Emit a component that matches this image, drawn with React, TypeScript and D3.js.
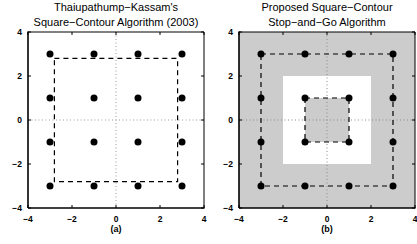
import React from "react";
import * as d3 from "d3";

const tickValues = [-4, -2, 0, 2, 4];
const tickLabels = ["−4", "−2", "0", "2", "4"];
const pointsX = [-3, -1, 1, 3, -3, -1, 1, 3, -3, -1, 1, 3, -3, -1, 1, 3];
const pointsY = [3, 3, 3, 3, 1, 1, 1, 1, -1, -1, -1, -1, -3, -3, -3, -3];
const contourA = [[-2.8, 2.8], [2.8, 2.8], [2.8, -2.8], [-2.8, -2.8]];
const contourBOuter = [[-3, 3], [3, 3], [3, -3], [-3, -3]];
const contourBInner = [[-1, 1], [1, 1], [1, -1], [-1, -1]];
const whiteHalf = 2;
const innerGrayHalf = 1;
const titlesA = ["Thaiupathump−Kassam's", "Square−Contour Algorithm (2003)"];
const titlesB = ["Proposed Square−Contour", "Stop−and−Go Algorithm"];
const captions = ["(a)", "(b)"];

const FONT = "'Liberation Sans', Arial, Helvetica, sans-serif";
const TOP = 32;
const SIZE = 176;
const GRAY = "#cccccc";

function Panel({ x0, titles, caption, variant }: { x0: number; titles: string[]; caption: string; variant: "a" | "b" }) {
  const x = d3.scaleLinear().domain([-4, 4]).range([x0, x0 + SIZE]);
  const y = d3.scaleLinear().domain([-4, 4]).range([TOP + SIZE, TOP]);
  const line = d3
    .line<number[]>()
    .x((d) => x(d[0]))
    .y((d) => y(d[1]))
    .curve(d3.curveLinearClosed);
  const cx = x(0);
  const rect = (h: number, fill: string) => (
    <rect x={x(-h)} y={y(h)} width={x(h) - x(-h)} height={y(-h) - y(h)} fill={fill} />
  );
  const gridColor = variant === "a" ? "#9a9a9a" : "#8a8a8a";
  return (
    <g>
      <text x={cx} y={11} textAnchor="middle" fontSize={11} fontFamily={FONT}>{titles[0]}</text>
      <text x={cx} y={25.5} textAnchor="middle" fontSize={11} fontFamily={FONT}>{titles[1]}</text>
      {variant === "b" && (
        <g>
          {rect(4, GRAY)}
          {rect(whiteHalf, "#ffffff")}
          {rect(innerGrayHalf, GRAY)}
        </g>
      )}
      <line x1={x(0)} x2={x(0)} y1={y(4)} y2={y(-4)} stroke={gridColor} strokeWidth={1} strokeDasharray="1,2.5" />
      <line x1={x(-4)} x2={x(4)} y1={y(0)} y2={y(0)} stroke={gridColor} strokeWidth={1} strokeDasharray="1,2.5" />
      {variant === "a" ? (
        <path d={line(contourA) || ""} fill="none" stroke="#000" strokeWidth={1.2} strokeDasharray="5,4" />
      ) : (
        <g>
          <path d={line(contourBOuter) || ""} fill="none" stroke="#000" strokeWidth={1.2} strokeDasharray="5,4" />
          <path d={line(contourBInner) || ""} fill="none" stroke="#000" strokeWidth={1.2} strokeDasharray="5,4" />
        </g>
      )}
      {pointsX.map((px, i) => (
        <circle key={i} cx={x(px)} cy={y(pointsY[i])} r={3.5} fill="#000" />
      ))}
      {tickValues.map((t) => (
        <g key={"t" + t}>
          <line x1={x(t)} x2={x(t)} y1={y(-4)} y2={y(-4) - 3} stroke="#000" />
          <line x1={x(t)} x2={x(t)} y1={y(4)} y2={y(4) + 3} stroke="#000" />
          <line x1={x(-4)} x2={x(-4) + 3} y1={y(t)} y2={y(t)} stroke="#000" />
          <line x1={x(4)} x2={x(4) - 3} y1={y(t)} y2={y(t)} stroke="#000" />
        </g>
      ))}
      <line x1={x(-4)} x2={x(4)} y1={y(4)} y2={y(4)} stroke="#000" strokeWidth={1} />
      <line x1={x(4)} x2={x(4)} y1={y(4)} y2={y(-4)} stroke="#000" strokeWidth={1} />
      <line x1={x(-4)} x2={x(4) + 0.5} y1={y(-4)} y2={y(-4)} stroke="#000" strokeWidth={1.6} />
      <line x1={x(-4)} x2={x(-4)} y1={y(4) - 0.5} y2={y(-4)} stroke="#000" strokeWidth={1.6} />
      {tickValues.map((t, i) => (
        <text key={"xl" + t} x={x(t)} y={221.5} textAnchor="middle" fontSize={8.5} fontWeight="bold" fontFamily={FONT}>
          {tickLabels[i]}
        </text>
      ))}
      {tickValues.map((t, i) => (
        <text key={"yl" + t} x={x(-4) - 6} y={y(t) + 3} textAnchor="end" fontSize={8.5} fontWeight="bold" fontFamily={FONT}>
          {tickLabels[i]}
        </text>
      ))}
      <text x={cx} y={231.5} textAnchor="middle" fontSize={9} fontWeight="bold" fontFamily={FONT}>{caption}</text>
    </g>
  );
}

export default function App() {
  return (
    <svg width={417} height={244} style={{ position: "absolute", left: 0, top: 0, background: "#fff" }}>
      <rect width={417} height={244} fill="#fff" />
      <Panel x0={28} titles={titlesA} caption={captions[0]} variant="a" />
      <Panel x0={239} titles={titlesB} caption={captions[1]} variant="b" />
    </svg>
  );
}
